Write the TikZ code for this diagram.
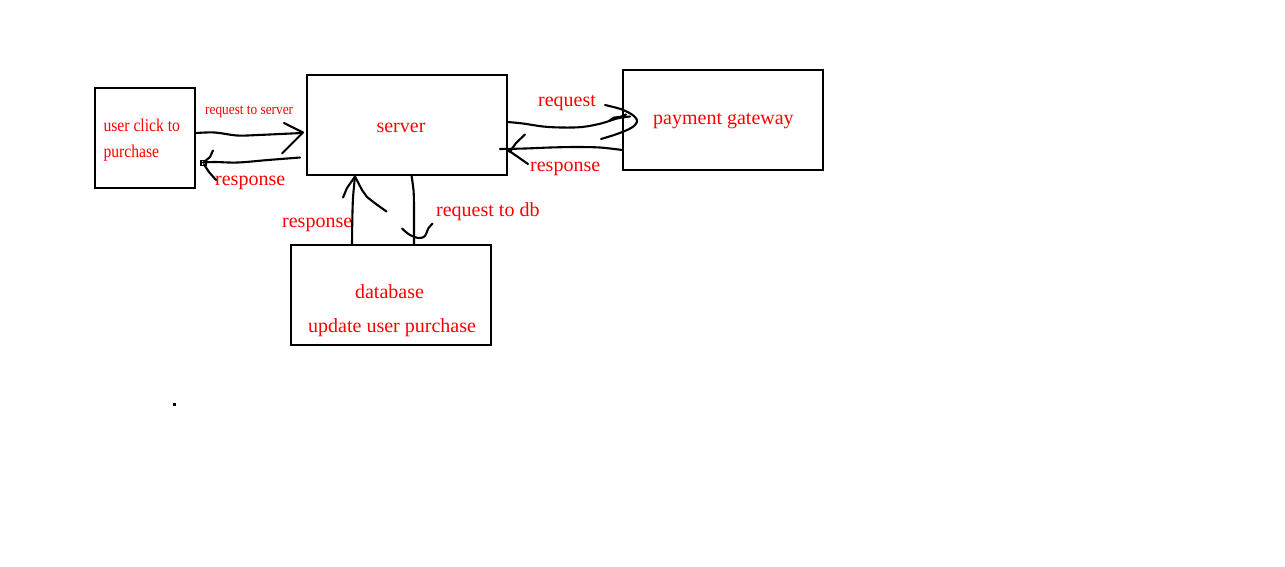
\documentclass[tikz,border=0pt]{standalone}
\usepackage{fontspec}
\setmainfont{Liberation Serif}
\newfontfamily\narrowA[FakeStretch=0.87]{Liberation Serif}
\definecolor{txtred}{RGB}{255,0,0}
\begin{document}
\begin{tikzpicture}[x=1pt,y=-1pt,
  box/.style={draw=black,line width=2pt,inner sep=0pt,minimum width=200pt,minimum height=100pt},
  lbl/.style={text=txtred,inner sep=0pt,font=\fontsize{20}{22}\selectfont},
  nlbl/.style={text=txtred,inner sep=0pt},
  hand/.style={line width=2.1pt,line cap=round,line join=round}]
\useasboundingbox[fill=white] (0,0) rectangle (1285,566);
% boxes
\node[box,minimum width=100pt] (user) at (145.3,137.7) {};
\node[box] (server) at (406.5,125) {};
\node[box] (pay) at (723.3,119.7) {};
\node[box] (db) at (390.7,295) {};
% texts
\node[nlbl,anchor=base west,font=\narrowA\fontsize{18}{20}\selectfont] (t1) at (103.3,131) {user click to};
\node[nlbl,anchor=base west,font=\narrowA\fontsize{18}{20}\selectfont] (t2) at (103.3,157.8) {purchase};
\node[nlbl,anchor=base west,font=\narrowA\fontsize{15.3}{17}\selectfont] (t3) at (205,114.5) {request to server};
\node[lbl,anchor=base] (t4) at (401,132.5) {server};
\node[lbl,anchor=base west] (t5) at (215,185) {response};
\node[lbl,anchor=base west] (t6) at (282,227.5) {response};
\node[lbl,anchor=base west] (t7) at (436,216) {request to db};
\node[lbl,anchor=base] (t8) at (389.5,298.5) {database};
\node[lbl,anchor=base west] (t9) at (308,332) {update user purchase};
\node[lbl,anchor=base west] (t10) at (538,106) {request};
\node[lbl,anchor=base west] (t11) at (530,171) {response};
\node[lbl,anchor=base west] (t12) at (653,124) {payment gateway};
% connector end points
\coordinate (a1) at (user.east |- 0,133);
\coordinate (a2) at (server.west |- 0,132);
\coordinate (b1) at (server.west |- 0,158);
\coordinate (b2) at (203,162.5);
\coordinate (c1) at (server.east |- 0,122);
\coordinate (c2) at (630,116.5);
\coordinate (d1) at (pay.west |- 0,150);
\coordinate (d2) at (500,149);
\coordinate (e1) at (352,244);
\coordinate (e2) at (355,176.5);
\coordinate (f1) at (411.5,175.5);
\coordinate (f2) at (414,245);
% user -> server : request
\draw[hand] plot[smooth,tension=0.6] coordinates {(a1) (215,132.5) (237,135.5) (258,135) (280,134) (302,133)};
\draw[hand] (284,123) -- (303,132.5) -- (282,153.5);
% server -> user : response
\draw[hand] plot[smooth,tension=0.6] coordinates {(300,157.5) (268,160) (238,162.5) (215,162) (b2)};
\draw[hand] (213,150.5) -- (210,157) -- (204,162);
\draw[hand] (204,164.5) -- (209,172) -- (216,180);
\draw[line width=1.8pt] (201,160.5) rectangle (206,165.5);
% server -> payment : request
\draw[hand] plot[smooth,tension=0.6] coordinates {(c1) (523,123.5) (543,126.5) (562,127.5) (582,127) (601,123.5) (617,118.5) (c2)};
\draw[hand] plot[smooth,tension=0.6] coordinates {(605,105) (622,109.5) (634,116) (637,122) (631,128) (617,134) (601,139)};
\draw[hand] (609,121) -- (614,117.5) -- (620,117) -- (626,114.5);
% payment -> server : response
\draw[hand] plot[smooth,tension=0.5] coordinates {(d1) (600,147.5) (575,147) (550,147.5) (525,148.5) (d2)};
\draw[hand] (525,134.5) -- (516,143) -- (510,151.5) -- (518,157) -- (528,164);
\fill (510,150.5) circle (2.3pt);
% database -> server : response
\draw[hand] plot[smooth,tension=0.5] coordinates {(e1) (352.3,220) (353,198) (e2)};
\draw[hand] (343,197.5) -- (347,188) -- (e2) -- (362,190) -- (367,197) -- (376,204) -- (386.5,211.5);
% server -> database : request to db
\draw[hand] plot[smooth,tension=0.5] coordinates {(f1) (413.5,190) (414,205) (414,225) (f2)};
\draw[hand] plot[smooth,tension=0.6] coordinates {(402,228.5) (410,235) (419,238) (425,236) (428,229) (432.5,223.5)};
% stray dot
\fill (173,403.3) rectangle (176,405.7);
\end{tikzpicture}
\end{document}
